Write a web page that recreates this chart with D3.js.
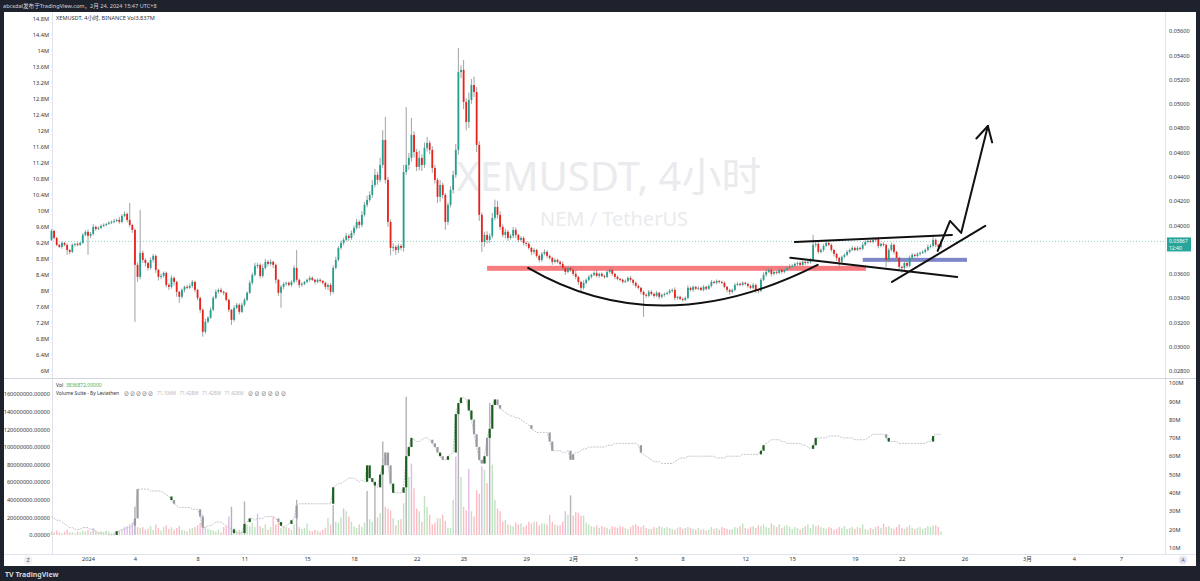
<!DOCTYPE html>
<html>
<head>
<meta charset="utf-8">
<script src="https://cdn.jsdelivr.net/npm/d3@7"></script>
<style>
  body { margin: 0; background: #1e222d; }
  svg { display: block; font-family: "Noto Sans", "Noto Sans CJK SC", sans-serif; }
</style>
</head>
<body>
<script>
// XEMUSDT 4h candles, Dec 29 16:00 -> Feb 24 12:00, prices in 1e-5 USDT
var firstOpen = 3880;
var closes = [
  [3954,3896],
  [3839,3822,3855,3839,3797,3781],
  [3839,3847,3839,3855,3921,3946],
  [3913,3929,3987,3970,3979,3995],
  [4003,4011,4020,4028,4036,4044],
  [4028,4077,4094,4044,4003,3962],
  [3674,3575,3773,3715,3690,3649],
  [3715,3748,3633,3575,3583,3608],
  [3509,3493,3567,3534,3452,3411],
  [3468,3493,3485,3501,3534,3468],
  [3402,3304,3123,3205,3238,3304],
  [3402,3452,3468,3452,3444,3386],
  [3304,3221,3320,3345,3287,3345],
  [3386,3444,3526,3592,3666,3674],
  [3583,3649,3699,3682,3699,3674],
  [3551,3444,3493,3518,3526,3509],
  [3534,3649,3551,3509,3518,3534],
  [3551,3567,3551,3534,3551,3542],
  [3526,3493,3509,3452,3649,3715],
  [3814,3855,3880,3913,3896,3937],
  [3979,4028,4003,4086,4168,4209],
  [4250,4332,4415,4374,4497,4703],
  [4374,4028,3814,3822,3797,3830],
  [3814,4439,4497,4555,4744,4604],
  [4481,4555,4497,4637,4678,4621],
  [4472,4374,4234,4332,4250,4028],
  [4168,4291,4415,4621,5262,5279],
  [5016,4851,5032,5155,5098,4662],
  [4086,3863,3921,3880,3913,4061],
  [4151,4086,3987,3921,3946,3896],
  [3913,3962,3921,3880,3896,3855],
  [3847,3814,3781,3797,3748,3715],
  [3765,3781,3748,3732,3699,3715],
  [3699,3682,3649,3616,3649,3633],
  [3600,3575,3534,3485,3526,3551],
  [3575,3592,3608,3583,3600,3583],
  [3575,3616,3633,3600,3575,3559],
  [3551,3534,3542,3567,3551,3526],
  [3501,3485,3452,3427,3419,3452],
  [3435,3419,3444,3411,3427,3435],
  [3444,3460,3468,3402,3411,3394],
  [3386,3402,3485,3468,3493,3477],
  [3485,3468,3493,3477,3501,3534],
  [3526,3542,3534,3526,3493,3468],
  [3452,3468,3509,3518,3509,3526],
  [3518,3501,3485,3509,3468,3460],
  [3551,3592,3616,3633,3600,3616],
  [3608,3633,3616,3633,3649,3658],
  [3666,3682,3690,3674,3699,3690],
  [3699,3715,3839,3847,3781,3797],
  [3830,3855,3839,3797,3765,3732],
  [3699,3740,3756,3781,3797,3814],
  [3797,3814,3806,3839,3863,3872],
  [3863,3880,3888,3830,3847,3839],
  [3715,3797,3839,3781,3732,3658],
  [3649,3690,3666,3732,3756,3748],
  [3765,3773,3781,3797,3822,3830],
  [3880,3839,3822,3867]
].flat();

// wick length above / below the body
var wickUp = [
  [15,10],[8,10,12,8,10,6],[10,8,12,10,15,12],[20,16,25,10,12,14],[12,10,14,12,16,10],
  [25,14,20,12,140,10],[12,20,354,18,12,10],[20,15,10,8,20,12],[10,15,20,12,10,8],
  [12,10,15,18,16,10],[8,10,12,25,15,20],[15,20,12,18,10,8],[10,8,20,15,12,18],
  [15,12,20,18,25,15],[12,30,25,15,20,10],[10,8,15,12,10,12],[12,20,148,10,12,8],
  [10,15,12,8,10,12],[8,10,12,15,20,25],[15,20,18,25,15,20],[20,25,15,30,25,35],
  [30,40,50,25,60,80],[189,25,20,30,15,20],[15,60,477,40,140,30],[25,60,30,45,50,20],
  [30,25,15,40,20,15],[20,30,35,50,198,40],[82,30,60,50,70,40],[30,20,25,30,20,40],
  [60,50,30,20,25,15],[15,25,20,10,15,12],[12,15,10,15,8,10],[15,20,12,10,8,12],
  [10,12,20,8,15,10],[12,30,10,8,20,12],[15,10,12,25,10,12],[10,15,20,10,8,12],
  [8,10,12,10,15,8],[10,12,8,10,12,15],[12,10,15,8,10,12],[10,15,12,20,8,10],
  [10,12,20,10,12,8],[12,10,15,10,12,15],[10,12,8,10,12,8],[8,10,15,12,10,12],
  [10,8,12,15,10,8],[15,20,25,15,12,10],[12,15,10,12,15,20],[15,12,10,15,12,10],
  [10,15,82,25,15,12],[15,25,12,10,8,10],[8,10,12,15,12,15],[12,15,10,20,15,12],
  [15,20,12,15,10,12],[10,15,20,12,10,8],[10,15,12,20,15,12],[12,10,15,12,20,15],
  [33,12,10,15]
].flat();
var wickDown = [
  [10,12],[12,10,15,12,41,20],[10,15,12,10,8,12],[156,20,12,15,10,12],[10,12,8,10,12,10],
  [15,12,10,20,15,25],[470,40,20,25,30,20],[15,20,25,30,20,15],[20,25,15,30,40,50],
  [15,20,12,10,15,20],[20,25,41,15,12,10],[12,10,15,12,20,15],[20,41,15,12,20,10],
  [15,12,10,15,12,20],[20,15,12,20,15,25],[30,25,123,20,15,12],[15,12,20,25,15,12],
  [12,15,10,20,12,15],[15,20,25,30,15,12],[12,15,20,12,25,15],[20,15,30,20,15,20],
  [15,25,20,40,20,25],[30,40,60,30,40,25],[20,30,25,40,30,45],[35,30,50,25,30,35],
  [40,30,49,40,30,66],[25,20,30,25,40,50],[60,70,50,30,40,60],[50,82,40,30,25,20],
  [20,30,25,20,30,25],[15,20,25,20,15,20],[20,15,25,20,15,20],[15,12,20,15,25,12],
  [12,15,20,25,12,15],[15,20,25,33,15,12],[12,15,10,12,15,10],[15,10,12,15,20,12],
  [12,15,10,12,15,20],[15,12,20,181,15,12],[12,15,10,20,12,15],[10,12,15,20,15,12],
  [15,12,10,12,15,10],[12,10,12,15,10,12],[10,12,15,10,12,20],[25,15,12,10,12,10],
  [12,15,10,12,25,20],[10,12,15,10,20,12],[12,10,15,12,10,12],[10,12,15,10,12,15],
  [12,15,10,20,15,12],[15,10,12,15,20,25],[49,15,12,10,12,10],[12,10,15,12,10,12],
  [10,12,15,20,12,15],[58,20,15,20,25,30],[41,20,15,12,15,12],[12,15,10,12,10,12],
  [12,20,25,15]
].flat();

// volume per candle, millions
var volumes = [
  [4,3],[5,3,2,4,6,3],[3,2,4,3,5,4],[6,4,8,5,3,4],[3,5,4,2,3,4],[5,7,9,10,12,14],
  [32,9,8,9,6,7],[10,6,12,8,5,9],[11,7,9,6,8,10],[6,5,4,7,8,9],[11,14,23,9,7,6],
  [5,4,6,3,9,10],[21,32,8,5,6,4],[38,12,10,14,9,24],[10,8,12,6,9,21],[12,14,8,10,9,8],
  [6,12,40,9,7,8],[13,5,4,6,5,4],[6,8,19,12,34,15],[14,20,30,27,21,15],[10,8,12,9,14,50],
  [18,15,57,20,25,106],[32,30,28,19,11,17],[18,36,157,66,81,53],[30,27,15,44,32,23],
  [12,14,19,19,23,16],[8,8,40,89,150,66],[32,28,75,27,21,51],[47,78,74,59,150,80],
  [40,30,27,15,17,12],[11,10,14,12,13,9],[11,15,13,15,15,11],[13,13,12,23,15,12],
  [11,11,15,27,23,45],[22,26,25,22,22,14],[12,10,9,11,8,10],[9,8,7,10,9,8],
  [10,9,8,7,9,11],[12,10,9,11,8,7],[7,9,8,10,9,8],[9,8,7,6,8,9],[7,8,9,8,7,6],
  [8,6,7,5,6,9],[7,8,6,9,8,7],[6,7,9,8,10,13],[8,7,9,10,8,11],[10,12,9,8,13,11],
  [9,12,8,10,11,9],[7,9,8,6,8,10],[12,8,12,10,11,9],[8,7,9,8,6,7],[9,8,10,7,8,9],
  [7,9,8,12,7,6],[8,7,9,10,8,13],[9,10,8,7,9,12],[8,7,9,11,8,7],[8,9,7,8,10,9],
  [11,11,9,4]
].flat();

// "Volume Suite" average line, millions (right scale)
var volAvg = [
  [27,26],[25,25,24,23,22,21],[21,20,20,20,21,21],[21,20,20,19,18,18],[18,18,17,17,17,19],
  [19,20,20,21,21,22],[26,42,42,42,42,42],[41,41,41,41,41,40],[39,38,36,34,33,32],
  [32,32,32,32,31,31],[31,27,21,21,22,22],[23,24,24,24,23,22],[21,20,18,18,18,18],
  [23,24,26,26,25,26],[26,26,27,27,27,27],[26,24,22,21,22,23],[25,26,33,34,34,34],
  [34,34,34,34,34,34],[34,34,34,34,43,44],[45,45,46,47,48,48],[48,47,46,47,46,55],
  [48,46,44,43,50,55],[62,55,45,40,40,40],[40,43,60,65,70,69],[68,68,69,70,70,69],
  [67,65,62,60,58,58],[60,61,62,83,89,92],[92,91,85,80,72,65],[58,56,60,70,75,88],
  [91,88,86,85,84,83],[82,82,81,81,80,79],[78,77,75,74,73,73],[73,73,73,68,63,63],
  [63,63,62,62,63,58],[61,62,62,63,64,64],[65,65,65,65,65,65],[65,66,66,66,67,67],
  [67,67,67,67,67,67],[67,66,62,61,60,59],[58,57,57,57,56,56],[56,56,56,57,58,59],
  [59,59,60,60,60,60],[60,60,60,60,60,60],[60,59,59,59,59,60],[60,60,60,60,60,61],
  [61,61,61,61,61,61],[63,66,67,68,69,69],[69,69,68,68,67,67],[67,67,67,67,66,66],
  [65,64,66,70,70,70],[70,70,71,71,71,71],[71,70,70,70,70,70],[69,69,69,69,69,70],
  [71,72,72,72,72,72],[70,68,68,68,68,67],[67,67,67,67,67,67],[67,67,67,67,68,68],
  [71,72,72,72]
].flat();

var lastPrice = 3867;
// 0.03800 sits under the last-price tag, so it is not listed
var priceTicks = [2800,3000,3200,3400,3600,4000,4200,4400,4600,4800,5000,5200,5400,5600];
var leftTicks = d3.range(60, 149, 4).map(function(v){ return v / 10; });
var volTicks = d3.range(0, 161, 20);
var avgTicks = d3.range(10, 101, 10);
var dateTicks = [[2024,1,1],[2024,1,4],[2024,1,8],[2024,1,11],[2024,1,15],[2024,1,18],[2024,1,22],
  [2024,1,25],[2024,1,29],[2024,2,1],[2024,2,5],[2024,2,8],[2024,2,12],[2024,2,15],[2024,2,19],
  [2024,2,22],[2024,2,26],[2024,3,1],[2024,3,4],[2024,3,7]];
var dateLabels = ["2024","4","8","11","15","18","22","25","29","2月","5","8","12","15","19","22","26","3月","4","7"];
var suiteValues = ["71.106M","71.428M","71.428M","71.428M"];

// drawings: [year, month, day, hour, price]
var redZone = [[2024,1,26,12,3666],[2024,2,19,17,3625]];
var blueZone = [[2024,2,19,12,3732],[2024,2,26,4,3699]];
var cupCurve = [[2024,1,29,3,3649],[2024,2,6,13,3016],[2024,2,16,15,3674]];
var topLine = [[2024,2,15,4,3863],[2024,2,25,5,3921]];
var lowLine = [[2024,2,14,21,3732],[2024,2,25,13,3575]];
var supportLine = [[2024,2,21,9,3534],[2024,2,27,8,3995]];
var arrowPath = [[2024,2,24,7,3789],[2024,2,25,2,4036],[2024,2,25,19,3937],[2024,2,27,12,4818]];

function utc(a) { return new Date(Date.UTC(a[0], a[1] - 1, a[2], a[3] || 0)); }

var start = Date.UTC(2023, 11, 29, 16);
var candles = closes.map(function(c, i) {
  var o = i === 0 ? firstOpen : closes[i - 1];
  return {
    t: new Date(start + i * 4 * 3600 * 1000),
    o: o, c: c,
    h: Math.max(o, c) + wickUp[i],
    l: Math.min(o, c) - wickDown[i],
    v: volumes[i], a: volAvg[i]
  };
});

var svg = d3.select("body").append("svg")
  .attr("width", 1200)
  .attr("height", 581);

svg.append("rect").attr("width", 1200).attr("height", 581).attr("fill", "#1e222d");
svg.append("rect").attr("x", 4).attr("y", 12).attr("width", 1192).attr("height", 554).attr("fill", "#fff");

var x = d3.scaleUtc()
  .domain([utc([2024,1,1]), utc([2024,3,7])])
  .range([88, 88 + 66 * 15.65]);
var y = d3.scaleLinear().domain([2800, 5600]).range([371, 31]);
var yLeft = d3.scaleLinear().domain([6, 14.8]).range([371, 19]);
var yVol = d3.scaleLinear().domain([0, 160]).range([535, 394]);
var yAvg = d3.scaleLinear().domain([0, 100]).range([566, 383]);

function pt(a) { return [x(utc(a)), y(a[4])]; }

// pane borders
var border = svg.append("g").attr("stroke", "#e0e3eb").attr("stroke-width", 1);
border.append("line").attr("x1", 52.5).attr("x2", 52.5).attr("y1", 12).attr("y2", 554);
border.append("line").attr("x1", 1165.5).attr("x2", 1165.5).attr("y1", 12).attr("y2", 554);
border.append("line").attr("x1", 4).attr("x2", 1196).attr("y1", 378.5).attr("y2", 378.5).attr("stroke", "#d1d4dc");
border.append("line").attr("x1", 4).attr("x2", 1196).attr("y1", 554.5).attr("y2", 554.5);

// header
svg.append("text").attr("x", 3).attr("y", 8).attr("fill", "#d1d4dc").attr("font-size", 5.6)
  .text("abcsdal发布于TradingView.com，2月 24, 2024 15:47 UTC+8");

// watermark
svg.append("text").attr("x", 609).attr("y", 191).attr("text-anchor", "middle")
  .attr("font-size", 40).attr("fill", "#eaebee").text("XEMUSDT, 4小时");
svg.append("text").attr("x", 614).attr("y", 226).attr("text-anchor", "middle")
  .attr("font-size", 20).attr("fill", "#eaebee").text("NEM / TetherUS");

svg.append("text").attr("x", 56).attr("y", 20).attr("fill", "#333").attr("font-size", 5.6)
  .text("XEMUSDT, 4小时, BINANCE  Vol3.837M");

// axes
function tidy(g) {
  g.attr("font-size", 5.6).attr("font-family", null);
  g.select(".domain").remove();
  g.selectAll("text").attr("fill", "#333");
}
svg.append("g").attr("transform", "translate(1169,0)")
  .call(d3.axisRight(y).tickValues(priceTicks).tickSize(0).tickPadding(0)
    .tickFormat(function(d){ return (d / 100000).toFixed(5); }))
  .call(tidy);
svg.append("g").attr("transform", "translate(49,0)")
  .call(d3.axisLeft(yLeft).tickValues(leftTicks).tickSize(0).tickPadding(0)
    .tickFormat(function(d){ return (+d.toFixed(1)) + "M"; }))
  .call(tidy);
svg.append("g").attr("transform", "translate(50,0)")
  .call(d3.axisLeft(yVol).tickValues(volTicks).tickSize(0).tickPadding(0)
    .tickFormat(function(d){ return (d * 1e6).toFixed(5); }))
  .call(tidy);
svg.append("g").attr("transform", "translate(1169,0)")
  .call(d3.axisRight(yAvg).tickValues(avgTicks).tickSize(0).tickPadding(0)
    .tickFormat(function(d){ return d + "M"; }))
  .call(tidy);
svg.append("g").attr("transform", "translate(0,557)")
  .call(d3.axisBottom(x).tickValues(dateTicks.map(utc)).tickSize(0).tickPadding(0)
    .tickFormat(function(d, i){ return dateLabels[i]; }))
  .call(tidy);

// corner buttons
svg.append("circle").attr("cx", 28).attr("cy", 560).attr("r", 4.5).attr("fill", "#eef0f5");
svg.append("text").attr("x", 28).attr("y", 562).attr("text-anchor", "middle").attr("font-size", 5.6).attr("fill", "#555").text("Z");
svg.append("circle").attr("cx", 1183).attr("cy", 560).attr("r", 4.5).attr("fill", "#e8e6f5");
svg.append("text").attr("x", 1183).attr("y", 562).attr("text-anchor", "middle").attr("font-size", 5.6).attr("fill", "#555").text("A");

// zones
[[redZone, "#f77c80"], [blueZone, "#7d86c9"]].forEach(function(z) {
  var a = pt(z[0][0]), b = pt(z[0][1]);
  svg.append("rect").attr("x", a[0]).attr("y", a[1]).attr("width", b[0] - a[0]).attr("height", b[1] - a[1])
    .attr("fill", z[1]);
});

// current price line
svg.append("line").attr("x1", 53).attr("x2", 1165).attr("y1", y(lastPrice)).attr("y2", y(lastPrice))
  .attr("stroke", "#6cc5bb").attr("stroke-width", 0.8).attr("stroke-dasharray", "1,2");

// volume bars
var vg = svg.append("g");
vg.selectAll("rect").data(candles).join("rect")
  .attr("x", function(d){ return x(d.t) - 0.7; })
  .attr("width", 1.4)
  .attr("y", function(d){ return yVol(d.v); })
  .attr("height", function(d){ return yVol(0) - yVol(d.v); })
  .attr("fill", function(d, i) {
    var prev = volumes.slice(Math.max(0, i - 20), i);
    var avg = prev.length ? d3.mean(prev) : d.v;
    if (d.v > 3 * avg) return "#b4b4b8";
    if (d.v > 2 * avg) return "#dcbbe8";
    return d.c >= d.o ? "#bfe3c0" : "#fbbcc4";
  });

// volume average line
svg.append("path").datum(candles)
  .attr("fill", "none").attr("stroke", "#c4c4cc").attr("stroke-width", 1)
  .attr("stroke-dasharray", "2,1")
  .attr("d", d3.line().x(function(d){ return x(d.t); }).y(function(d){ return yAvg(d.a); }));
var steps = candles.filter(function(d, i){ return i > 0 && Math.abs(d.a - candles[i - 1].a) >= 2; });
svg.append("g").selectAll("rect").data(steps).join("rect")
  .attr("x", function(d){ return x(d.t) - 1.1; })
  .attr("width", 2.2)
  .attr("y", function(d){ var i = candles.indexOf(d); return yAvg(Math.max(d.a, candles[i - 1].a)); })
  .attr("height", function(d){ var i = candles.indexOf(d); return Math.abs(yAvg(d.a) - yAvg(candles[i - 1].a)); })
  .attr("fill", function(d){ return d.c >= d.o ? "#1b5e20" : "#9a9aa2"; });

// candles
var cg = svg.append("g");
cg.selectAll("line").data(candles).join("line")
  .attr("x1", function(d){ return x(d.t); })
  .attr("x2", function(d){ return x(d.t); })
  .attr("y1", function(d){ return y(d.h); })
  .attr("y2", function(d){ return y(d.l); })
  .attr("stroke", "#8a8a8a").attr("stroke-width", 0.8);
cg.selectAll("rect").data(candles).join("rect")
  .attr("x", function(d){ return x(d.t) - 0.9; })
  .attr("width", 1.8)
  .attr("y", function(d){ return y(Math.max(d.o, d.c)); })
  .attr("height", function(d){ return Math.max(1, Math.abs(y(d.o) - y(d.c))); })
  .attr("fill", function(d){ return d.c >= d.o ? "#22a08e" : "#e8221d"; });

// trend drawings
var ink = svg.append("g").attr("fill", "none").attr("stroke", "#111").attr("stroke-width", 2)
  .attr("stroke-linecap", "round").attr("stroke-linejoin", "round");
var c0 = pt(cupCurve[0]), c1 = pt(cupCurve[1]), c2 = pt(cupCurve[2]);
var cup = d3.path();
cup.moveTo(c0[0], c0[1]);
cup.quadraticCurveTo(c1[0], c1[1], c2[0], c2[1]);
ink.append("path").attr("d", cup.toString());
[topLine, lowLine, supportLine].forEach(function(l) {
  ink.append("path").attr("d", d3.line()(l.map(pt)));
});
var ap = arrowPath.map(pt);
ink.append("path").attr("d", d3.line()(ap));
var tip = ap[ap.length - 1], from = ap[ap.length - 2];
var ang = Math.atan2(tip[1] - from[1], tip[0] - from[0]);
[0.5, -0.5].forEach(function(da) {
  ink.append("line").attr("x1", tip[0]).attr("y1", tip[1])
    .attr("x2", tip[0] - 17 * Math.cos(ang + da)).attr("y2", tip[1] - 17 * Math.sin(ang + da));
});

// last price tag
svg.append("rect").attr("x", 1167).attr("y", y(lastPrice) - 4).attr("width", 24).attr("height", 14).attr("fill", "#26a69a");
svg.append("text").attr("x", 1169).attr("y", y(lastPrice) + 1.8).attr("font-size", 5).attr("fill", "#fff").text("0.03867");
svg.append("text").attr("x", 1169).attr("y", y(lastPrice) + 8.3).attr("font-size", 5).attr("fill", "#fff").text("12:40");

// volume pane legend
var leg = svg.append("g").attr("font-size", 5);
leg.append("text").attr("x", 56).attr("y", 387).attr("fill", "#333").text("Vol");
leg.append("text").attr("x", 66).attr("y", 387).attr("fill", "#4caf50").text("3836872.00000");
leg.append("text").attr("x", 56).attr("y", 395).attr("fill", "#333")
  .attr("textLength", 63).attr("lengthAdjust", "spacingAndGlyphs").text("Volume Suite - By Leviathen");
d3.range(5).forEach(function(k) {
  leg.append("text").attr("x", 124 + k * 6).attr("y", 395).attr("fill", "#333").text("⊘");
});
suiteValues.forEach(function(s, k) {
  leg.append("text").attr("x", 157 + k * 22.5).attr("y", 395).attr("fill", "#b8b8c0")
    .attr("textLength", 19).attr("lengthAdjust", "spacingAndGlyphs").text(s);
});
d3.range(6).forEach(function(k) {
  leg.append("text").attr("x", 248 + k * 6.6).attr("y", 395).attr("fill", "#333").text("⊘");
});

// footer logo
svg.append("text").attr("x", 5).attr("y", 577).attr("fill", "#d1d4dc").attr("font-size", 7)
  .attr("font-weight", "bold").text("TV TradingView");
</script>
</body>
</html>
